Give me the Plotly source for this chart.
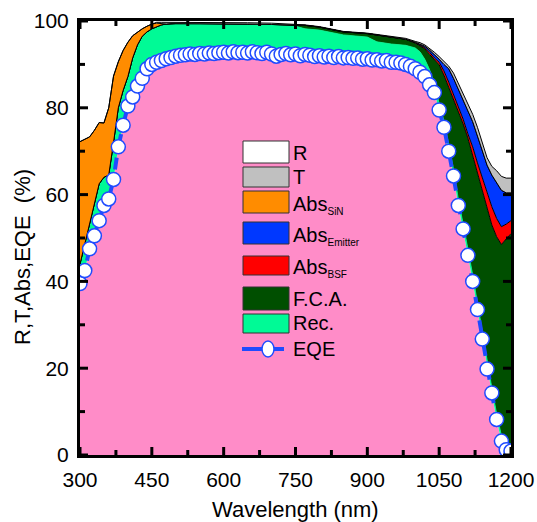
import plotly.graph_objects as go

# ---------------- data ----------------
wl_eqe = list(range(300, 1201, 10))
eqe = [39.5, 42.5, 47.5, 50.5, 54, 57.5, 59, 63.5, 71, 76,
       80.4, 82.5, 85, 86.8, 89, 90, 90.5, 90.9, 91.3, 91.6,
       91.9, 92.1, 92.2, 92.4, 92.3, 92.5, 92.4, 92.6, 92.5, 92.7,
       92.8, 92.6, 92.9, 92.7, 92.8, 92.6, 92.9, 92.7, 92.5, 92.8,
       92.4, 91.9, 92.3, 92.5, 92.2, 92.4, 92.0, 92.3, 92.1, 91.8,
       92.0, 91.7, 91.9, 91.6, 91.8, 91.5, 91.6, 91.4, 91.5, 91.2,
       91.3, 91.0, 91.1, 90.8, 90.9, 90.5, 90.5, 90.3, 90.0, 89.6,
       89.0, 88.2, 87.2, 85.3, 83.5, 79.5, 75.5, 70, 64.3, 57.5,
       52.1, 46, 40, 33.5, 26.7, 19.8, 14.3, 8.2, 3.2, 1.2, 0.9]

wl = [300, 310, 320, 330, 340, 350, 360, 370, 380, 390, 400, 410, 420, 430, 440,
      450, 460, 470, 480, 490, 500, 550, 600, 650, 700, 750, 770, 800, 850, 900,
      920, 950, 980, 1000, 1010, 1020, 1030, 1040, 1050, 1060, 1070, 1080, 1090,
      1100, 1110, 1120, 1130, 1140, 1150, 1160, 1170, 1180, 1190, 1200]

# cumulative tops of each stacked layer (%)
rec_top = [44, 48.5, 53, 57.5, 62.5, 64, 64.5, 72, 80, 84, 87.2, 91.5, 94.5, 96.5, 97.5,
           98.2, 98.7, 99.1, 99.3, 99.4, 99.4, 99.4, 99.4, 99.3, 99.2, 98.8, 98.2, 97.9, 96.8, 96.3,
           95.2, 94.7, 94.4, 93.8, 92.9, 91.2, 88.8, 85.5, 81, 77, 71.5, 65.8, 59,
           53.5, 47.5, 41.5, 35, 28, 21, 15.5, 9.5, 4.5, 2, 1.5]
fca_top = [44, 48.5, 53, 57.5, 62.5, 64, 64.5, 72, 80, 84, 87.2, 91.5, 94.5, 96.5, 97.5,
           98.2, 98.7, 99.1, 99.3, 99.4, 99.4, 99.4, 99.4, 99.3, 99.2, 99.1, 99.0, 98.6, 97.5, 97.1,
           96.8, 96.3, 95.8, 94.9, 94.3, 93.6, 92.3, 91.0, 89.9, 87.5, 84.8, 82, 79.2,
           76.3, 73, 69, 64.8, 60.5, 56.5, 53, 50.3, 48.5, 49.8, 51]
bsf_top = [44, 48.5, 53, 57.5, 62.5, 64, 64.5, 72, 80, 84, 87.2, 91.5, 94.5, 96.5, 97.5,
           98.2, 98.7, 99.1, 99.3, 99.4, 99.4, 99.4, 99.4, 99.3, 99.2, 99.1, 99.0, 98.6, 97.5, 97.1,
           96.8, 96.3, 95.8, 95.0, 94.5, 93.9, 92.8, 91.5, 90.5, 88.5, 85.9, 83.2, 80.2,
           77.4, 74, 71, 67.3, 63.8, 60.5, 57.2, 54.5, 52.6, 53.2, 54]
emit_top = [44, 48.5, 53, 57.5, 62.5, 64, 64.5, 72, 80, 84, 87.2, 91.5, 94.5, 96.5, 97.5,
            98.2, 98.7, 99.1, 99.3, 99.4, 99.4, 99.4, 99.4, 99.3, 99.2, 99.1, 99.0, 98.6, 97.5, 97.1,
            96.8, 96.3, 95.8, 95.1, 94.7, 94.2, 93.3, 92.3, 91.2, 90.0, 89.0, 86.8, 84.3,
            81.7, 79.3, 76.8, 73.5, 70, 66.8, 64.5, 62.7, 61, 60.4, 60.4]
sin_top = [72.2, 72.8, 73.3, 74.8, 76.6, 76.5, 80, 87.3, 90.6, 93.2, 95.1, 96.6, 97.5, 98.2, 98.8,
           99.3, 99.5, 99.4, 99.3, 99.4, 99.4, 99.4, 99.4, 99.3, 99.2, 99.1, 99.0, 98.6, 97.5, 97.1,
           96.8, 96.3, 95.8, 95.1, 94.7, 94.2, 93.3, 92.3, 91.2, 90.0, 89.0, 86.8, 84.3,
           81.7, 79.3, 76.8, 73.5, 70, 66.8, 64.5, 62.7, 61, 60.4, 60.4]
t_top = [72.2, 72.8, 73.3, 74.8, 76.6, 76.5, 80, 87.3, 90.6, 93.2, 95.1, 96.6, 97.5, 98.2, 98.8,
         99.3, 99.7, 99.7, 99.7, 99.7, 99.7, 99.7, 99.7, 99.6, 99.5, 99.2, 99.1, 98.7, 97.6, 97.2,
         96.9, 96.4, 96.0, 95.3, 95.0, 94.5, 93.7, 92.8, 91.8, 90.7, 89.6, 88, 85.6,
         83.3, 81, 78.5, 75.5, 72, 68.5, 66.5, 65.5, 64.2, 63.8, 63.8]

x_ticks = [300, 450, 600, 750, 900, 1050, 1200]
x_minor = [375, 525, 675, 825, 975, 1125]
y_ticks = [0, 20, 40, 60, 80, 100]
y_minor = [10, 30, 50, 70, 90]
x_range = [300, 1200]
y_range = [0, 100]

legend_names = ["R", "T", "Abs<sub><span style='font-size:10px'>SiN</span></sub>",
                "Abs<sub><span style='font-size:10px'>Emitter</span></sub>",
                "Abs<sub><span style='font-size:10px'>BSF</span></sub>",
                "F.C.A.", "Rec."]

# ---------------- style ----------------
C_PINK = "#FF8CC8"
C_REC = "#00FA96"
C_FCA = "#004F00"
C_BSF = "#FF0000"
C_EMIT = "#0038FF"
C_SIN = "#FF8C00"
C_T = "#C0C0C0"
C_R = "#FFFFFF"
C_EQE = "#1F4BFF"
C_TICK = "black"
FONT = "Arial, Liberation Sans, sans-serif"
PW, PH = 431.0, 434.0   # plot area size in px

fig = go.Figure()
fig.add_trace(go.Scatter(x=wl_eqe, y=eqe, mode="lines", fill="tozeroy",
                         fillcolor=C_PINK, line=dict(width=0, color=C_PINK), hoverinfo="skip"))
fig.add_trace(go.Scatter(x=wl, y=rec_top, mode="lines", fill="tonexty",
                         fillcolor=C_REC, line=dict(width=0.8, color=C_REC)))
for ys, col in [(fca_top, C_FCA), (bsf_top, C_BSF), (emit_top, C_EMIT),
                (sin_top, C_SIN), (t_top, C_T)]:
    fig.add_trace(go.Scatter(x=wl, y=ys, mode="lines", fill="tonexty",
                             fillcolor=col, line=dict(width=1, color="black")))
fig.add_trace(go.Scatter(x=wl_eqe, y=eqe, mode="lines+markers",
                         line=dict(color=C_EQE, width=4, dash="dash"),
                         marker=dict(symbol="circle", size=14, color="white",
                                     line=dict(color=C_EQE, width=1.5))))

# ---------------- ticks (inside, mirrored), drawn through the axes ----------------
xspan = x_range[1] - x_range[0]
yspan = y_range[1] - y_range[0]
tx, ty = [], []
for v, ln in [(t, 8) for t in x_ticks] + [(t, 5) for t in x_minor]:
    d = ln / PH * yspan
    tx += [v, v, None, v, v, None]
    ty += [y_range[0], y_range[0] + d, None, y_range[1] - d, y_range[1], None]
for v, ln in [(t, 8) for t in y_ticks] + [(t, 5) for t in y_minor]:
    d = ln / PW * xspan
    tx += [x_range[0], x_range[0] + d, None, x_range[1] - d, x_range[1], None]
    ty += [v, v, None, v, v, None]
fig.add_trace(go.Scatter(x=tx, y=ty, mode="lines", line=dict(color=C_TICK, width=3),
                         hoverinfo="skip", connectgaps=False))

# ---------------- custom legend ----------------
def px_x(p):
    return (p - 80) / PW

def px_y(p):
    return (455 - p) / PH

shapes = []
annotations = []
rows = [(141, 163, C_R, 153), (167, 187, C_T, 177), (191, 213, C_SIN, 205),
        (222, 244, C_EMIT, 236), (256, 275, C_BSF, 268), (287, 310, C_FCA, 299),
        (314, 333, C_REC, 323)]
for (t, b, col, tyy), name in zip(rows, legend_names):
    shapes.append(dict(type="rect", xref="paper", yref="paper",
                       x0=px_x(243), x1=px_x(289), y0=px_y(b), y1=px_y(t),
                       fillcolor=col, line=dict(color="#333333", width=1)))
    annotations.append(dict(text=name, xref="paper", yref="paper", x=px_x(291),
                            y=px_y(tyy), xanchor="left", yanchor="middle", showarrow=False,
                            font=dict(size=20, family=FONT, color="black")))
shapes.append(dict(type="line", xref="paper", yref="paper", x0=px_x(242), x1=px_x(262),
                   y0=px_y(349), y1=px_y(349), line=dict(color=C_EQE, width=4)))
shapes.append(dict(type="line", xref="paper", yref="paper", x0=px_x(274), x1=px_x(284),
                   y0=px_y(349), y1=px_y(349), line=dict(color=C_EQE, width=4)))
shapes.append(dict(type="circle", xref="paper", yref="paper", x0=px_x(262), x1=px_x(274),
                   y0=px_y(357), y1=px_y(341), fillcolor="white",
                   line=dict(color=C_EQE, width=1.5)))
annotations.append(dict(text="EQE", xref="paper", yref="paper", x=px_x(291), y=px_y(349),
                        xanchor="left", yanchor="middle", showarrow=False,
                        font=dict(size=20, family=FONT, color="black")))
# axis titles
annotations.append(dict(text="Wavelength (nm)", xref="paper", yref="paper", x=px_x(295),
                        y=px_y(509), xanchor="center", yanchor="middle", showarrow=False,
                        font=dict(size=22, family=FONT, color="black")))
annotations.append(dict(text="R,T,Abs,EQE  (%)", xref="paper", yref="paper", x=px_x(22),
                        y=px_y(257), xanchor="center", yanchor="middle", showarrow=False,
                        textangle=-90, font=dict(size=22, family=FONT, color="black")))

axis_common = dict(showgrid=False, zeroline=False, showline=True, linecolor="black",
                   linewidth=3, mirror=True, ticks="", automargin=False,
                   layer="above traces",
                   tickfont=dict(size=21, family=FONT, color="black"))

fig.update_layout(
    width=537, height=522,
    margin=dict(l=80, r=26, t=21, b=67, autoexpand=False),
    paper_bgcolor="white", plot_bgcolor="white",
    showlegend=False,
    xaxis=dict(range=x_range, tickvals=x_ticks, ticktext=[str(v) for v in x_ticks],
               ticklabelstandoff=4, **axis_common),
    yaxis=dict(range=y_range, tickvals=y_ticks, ticktext=[str(v) for v in y_ticks],
               ticklabelstandoff=4, **axis_common),
    shapes=shapes, annotations=annotations,
)

fig.write_html("out.html", config={"displayModeBar": False},
               post_script="document.body.style.margin='0';document.body.style.padding='0';")
